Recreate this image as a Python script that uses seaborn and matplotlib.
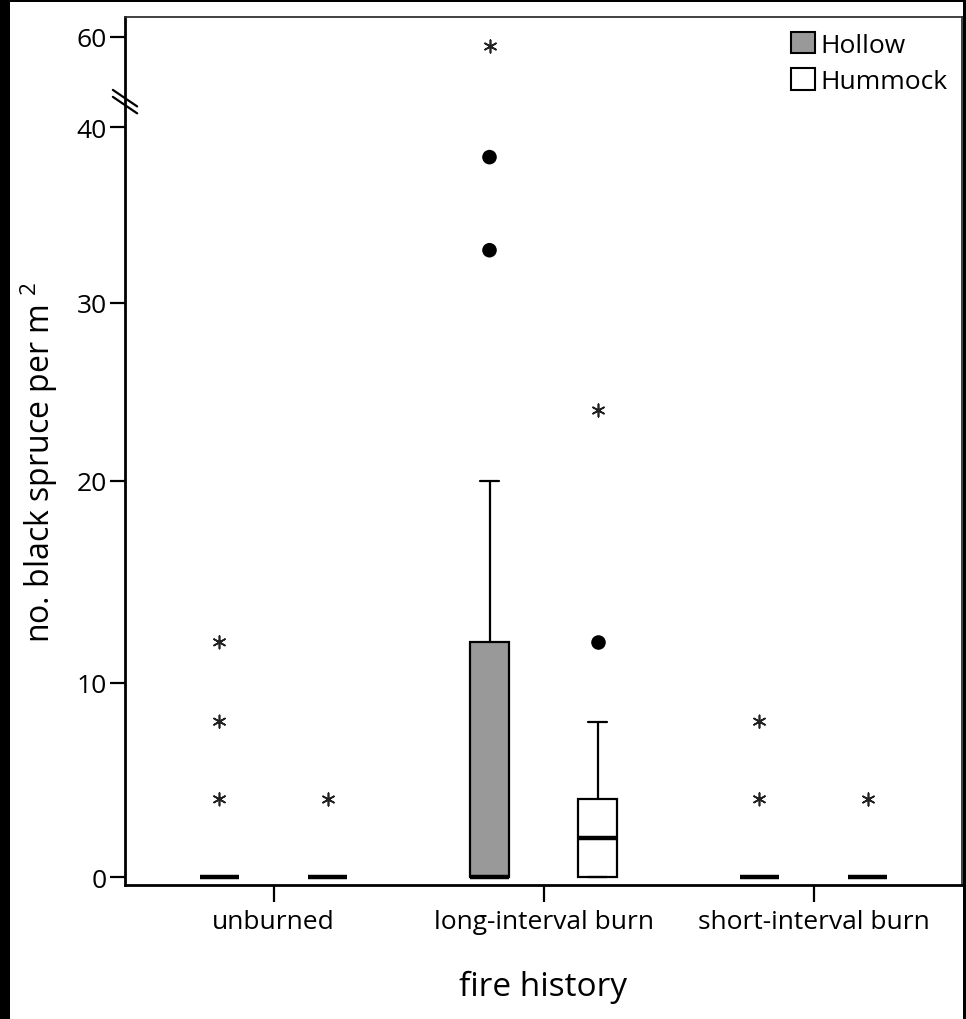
import numpy as np
import pandas as pd
import matplotlib
matplotlib.use("Agg")
import matplotlib.pyplot as plt
import seaborn as sns
from matplotlib.patches import Patch, Rectangle

# ---------------- data ----------------
fire_levels = ["unburned", "long-interval burn", "short-interval burn"]
surface_levels = ["Hollow", "Hummock"]

unburned_hollow = [0] * 17 + [4, 8, 12]
unburned_hummock = [0] * 19 + [4]
long_hollow = [0] * 11 + [4, 8, 12, 12, 12, 20, 33, 38.3, 58]
long_hummock = [0] * 10 + [4] * 7 + [8, 12, 24]
short_hollow = [0] * 18 + [4, 8]
short_hummock = [0] * 19 + [4]

y_ticks = [0, 10, 20, 30, 40, 60]
surface_colors = {"Hollow": "#999999", "Hummock": "#ffffff"}

groups = {
    ("unburned", "Hollow"): unburned_hollow,
    ("unburned", "Hummock"): unburned_hummock,
    ("long-interval burn", "Hollow"): long_hollow,
    ("long-interval burn", "Hummock"): long_hummock,
    ("short-interval burn", "Hollow"): short_hollow,
    ("short-interval burn", "Hummock"): short_hummock,
}

rows, mild_rows, far_rows = [], [], []
for (fire, surf), vals in groups.items():
    v = np.asarray(vals, float)
    q1, q3 = np.percentile(v, [25, 75])
    iqr = q3 - q1
    far = (v > q3 + 3 * iqr) | (v < q1 - 3 * iqr)
    mild = ((v > q3 + 1.5 * iqr) | (v < q1 - 1.5 * iqr)) & ~far
    for x in v:
        rows.append((fire, surf, x))
    for x in v[mild]:
        mild_rows.append((fire, surf, x))
    for x in v[far]:
        far_rows.append((fire, surf, x))

cols = ["fire", "surface", "value"]
df = pd.DataFrame(rows, columns=cols)
df_mild = pd.DataFrame(mild_rows, columns=cols)
df_far = pd.DataFrame(far_rows, columns=cols)

# broken / non-uniform value axis (piecewise linear scale)
scale_vals = [0, 10, 20, 30, 40, 60]
scale_pos = [0, 194.3, 396.6, 574.3, 750.0, 840.6]


def _piecewise(x, xs, ys):
    x = np.asarray(x, dtype=float)
    flat = np.atleast_1d(x).ravel().copy()
    out = np.interp(flat, xs, ys)
    s0 = (ys[1] - ys[0]) / (xs[1] - xs[0])
    s1 = (ys[-1] - ys[-2]) / (xs[-1] - xs[-2])
    lo = flat < xs[0]
    hi = flat > xs[-1]
    out[lo] = ys[0] + (flat[lo] - xs[0]) * s0
    out[hi] = ys[-1] + (flat[hi] - xs[-1]) * s1
    return out.reshape(x.shape)


def fwd(y):
    return _piecewise(y, scale_vals, scale_pos)


def inv(p):
    return _piecewise(p, scale_pos, scale_vals)


# ---------------- style ----------------
sns.set_style("ticks")
plt.rcParams["font.family"] = ["Open Sans", "DejaVu Sans"]
plt.rcParams["mathtext.fontset"] = "custom"
plt.rcParams["mathtext.rm"] = "Open Sans"
plt.rcParams["mathtext.default"] = "rm"
plt.rcParams["text.color"] = "black"
plt.rcParams["axes.labelcolor"] = "black"
plt.rcParams["xtick.color"] = "black"
plt.rcParams["ytick.color"] = "black"

fig = plt.figure(figsize=(9.66, 10.2), dpi=100)
fig.patch.set_facecolor("black")
fig.patches.append(Rectangle((10 / 966, 0), 953 / 966, 1017 / 1020,
                             transform=fig.transFigure, facecolor="white",
                             edgecolor="none", zorder=-10))
ax = fig.add_axes([125 / 966, (1020 - 886) / 1020, 837 / 966, 868 / 1020])
ax.set_facecolor("white")

sns.boxplot(data=df, x="fire", y="value", hue="surface",
            order=fire_levels, hue_order=surface_levels,
            palette=surface_colors, linecolor="black", linewidth=1.6,
            gap=0.635, showfliers=False, legend=False, ax=ax,
            medianprops={"linewidth": 3.2, "color": "black"},
            whiskerprops={"linewidth": 1.6}, capprops={"linewidth": 1.6})

sns.stripplot(data=df_mild, x="fire", y="value", hue="surface",
              order=fire_levels, hue_order=surface_levels,
              palette=["black", "black"], dodge=True, jitter=False,
              marker="o", size=10.5, linewidth=0, legend=False, ax=ax)
sns.stripplot(data=df_far, x="fire", y="value", hue="surface",
              order=fire_levels, hue_order=surface_levels,
              palette=["#222222", "#222222"], dodge=True, jitter=False,
              marker=(6, 2, 0), size=9, linewidth=1.2, legend=False, ax=ax)

ax.set_yscale("function", functions=(fwd, inv))
ax.set_ylim(-0.41, 64.35)
ax.set_xlim(-0.55, 2.55)
ax.set_yticks(y_ticks)
ax.set_yticklabels([str(t) for t in y_ticks])
ax.minorticks_off()

ax.tick_params(axis="y", direction="out", length=11, width=1.6, pad=2,
               labelsize=19, color="black", labelcolor="black")
ax.tick_params(axis="x", direction="out", length=12, width=1.6, pad=5,
               labelsize=19, color="black", labelcolor="black")

for side in ["left", "bottom"]:
    ax.spines[side].set_linewidth(2.0)
    ax.spines[side].set_color("black")
for side in ["top", "right"]:
    ax.spines[side].set_linewidth(1.3)
    ax.spines[side].set_color("#333333")

ax.set_xlabel("fire history", fontsize=24, labelpad=26)
ax.set_ylabel("no. black spruce per m $^{2}$", fontsize=23, labelpad=12,
              y=0.488)

# axis-break mark on the left spine
for dy in (0.0045, -0.0035):
    ax.plot([-0.0145, 0.0145], [0.902 + dy + 0.0095, 0.902 + dy - 0.0095],
            transform=ax.transAxes, color="black", lw=1.6,
            clip_on=False, zorder=5)

handles = [Patch(facecolor=surface_colors[s], edgecolor="black",
                 linewidth=1.5, label=s) for s in surface_levels]
ax.legend(handles=handles, loc="upper right", frameon=False, fontsize=19,
          handlelength=0.9, handleheight=0.9, handletextpad=0.2,
          labelspacing=0.4, borderaxespad=0.35, borderpad=0.2)

fig.savefig("out.png", dpi=100, facecolor=fig.get_facecolor())
